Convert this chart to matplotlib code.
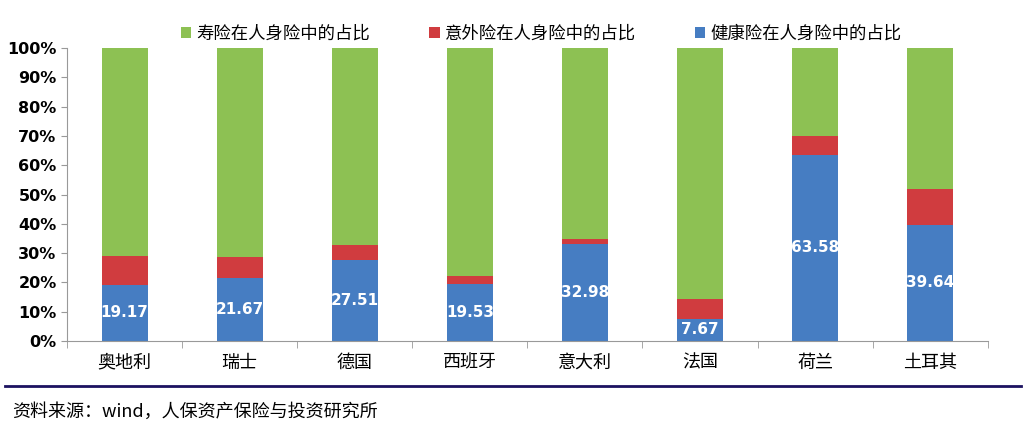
import numpy as np
import matplotlib.pyplot as plt
from matplotlib.ticker import PercentFormatter, FixedLocator

plt.rcParams['font.family'] = ['Noto Sans CJK SC', 'DejaVu Sans']

countries = ["奥地利", "瑞士", "德国", "西班牙", "意大利", "法国", "荷兰", "土耳其"]
health = [19.17, 21.67, 27.51, 19.53, 32.98, 7.67, 63.58, 39.64]
accident = [9.8, 7.0, 5.3, 2.7, 1.8, 6.6, 6.4, 12.3]
life = [100 - h - a for h, a in zip(health, accident)]

c_life = "#8dc153"
c_acc = "#d03c3f"
c_health = "#467dc2"

fig = plt.figure(figsize=(10.31, 4.26), dpi=100)
ax = fig.add_axes([0.065, 0.1995, 0.893, 0.6875])

x = np.arange(len(countries))
w = 0.4
health_f = np.array(health) / 100
acc_f = np.array(accident) / 100
life_f = np.array(life) / 100
ax.bar(x, health_f, w, color=c_health, label="健康险在人身险中的占比")
ax.bar(x, acc_f, w, bottom=health_f, color=c_acc, label="意外险在人身险中的占比")
ax.bar(x, life_f, w, bottom=health_f + acc_f, color=c_life, label="寿险在人身险中的占比")

for xi, h in zip(x, health):
    ax.text(xi, h / 200, f"{h:.2f}", ha="center", va="center", color="white",
            fontsize=11, fontweight="bold", family=["DejaVu Sans"])

ax.set_xlim(-0.5, len(countries) - 0.5)
ax.set_ylim(0, 1)
ax.yaxis.set_major_locator(FixedLocator(np.arange(0, 1.01, 0.1)))
ax.yaxis.set_major_formatter(PercentFormatter(1.0, decimals=0))
ax.set_xticks(x)
ax.set_xticklabels(countries, fontsize=13)
ax.xaxis.set_minor_locator(FixedLocator(np.arange(-0.5, len(countries), 1)))
ax.tick_params(axis="x", which="major", length=0, pad=9)
ax.tick_params(axis="x", which="minor", length=5, color="#999999")
ax.tick_params(axis="y", length=4, color="#999999", labelsize=11.5)
for lbl in ax.get_yticklabels():
    lbl.set_fontweight("bold")
    lbl.set_family(["DejaVu Sans"])
for s in ["top", "right"]:
    ax.spines[s].set_visible(False)
for s in ["left", "bottom"]:
    ax.spines[s].set_color("#999999")

handles, labels = ax.get_legend_handles_labels()
ax.legend(handles[::-1], labels[::-1], loc="lower center", bbox_to_anchor=(0.515, 0.99),
          ncol=3, frameon=False, fontsize=12.5, handlelength=0.6, handleheight=0.6,
          handletextpad=0.3, columnspacing=3.4, borderaxespad=0.1)

fig.add_artist(plt.Line2D([0.005, 0.99], [1 - 386 / 426, 1 - 386 / 426],
                          color="#1c1260", linewidth=2))
fig.text(0.012, 1 - 412 / 426, "资料来源：wind，人保资产保险与投资研究所", fontsize=13,
         va="center", ha="left")

fig.savefig("out.png", dpi=100)
